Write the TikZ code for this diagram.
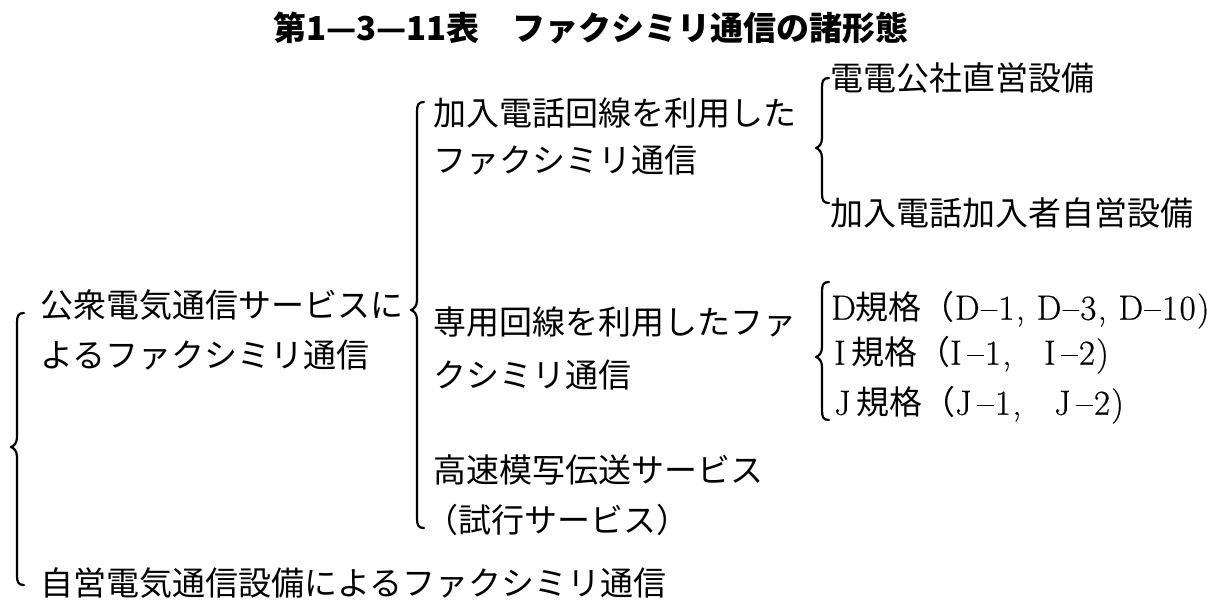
\documentclass[tikz,border=0pt]{standalone}
\usepackage{fontspec}
\newfontfamily\cjk{Noto Sans CJK JP}
\newfontfamily\latn[FakeBold=0.6]{Latin Modern Roman}
\newcommand\lt[1]{{\latn\fontsize{35}{35}\selectfont\addfontfeature{LetterSpace=4}#1}}
\newcommand\mybrace[4]{%
  \draw[bracestyle] (#1+7,#2) .. controls (#1+1,#2) and (#1,#2+3) .. (#1,#2+10)
    -- (#1,#3-10) .. controls (#1,#3-4) and (#1-3,#3-1) .. (#1-6,#3)
    .. controls (#1-3,#3+1) and (#1,#3+4) .. (#1,#3+10)
    -- (#1,#4-10) .. controls (#1,#4-3) and (#1+1,#4) .. (#1+7,#4);}
\begin{document}
\begin{tikzpicture}[x=1pt,y=-1pt,
  jp/.style={anchor=west,inner sep=0pt,font=\cjk\fontsize{33}{33}\selectfont},
  bracestyle/.style={line width=2.2pt,line cap=round,line join=round}]
\useasboundingbox (0,0) rectangle (1231,609);
\fill[white] (0,0) rectangle (1231,609);
\node[inner sep=0pt,font=\cjk\bfseries\fontsize{33}{33}\selectfont] (title) at (591,28) {第1—3—11表　ファクシミリ通信の諸形態};
\node[jp] (a1) at (40,305) {公衆電気通信サービスに};
\node[jp] (a2) at (40,355) {よるファクシミリ通信};
\node[jp] (a3) at (40,583) {自営電気通信設備によるファクシミリ通信};
\node[jp] (b1) at (433,113) {加入電話回線を利用した};
\node[jp] (b2) at (433,160) {ファクシミリ通信};
\node[jp] (b3) at (433,322) {専用回線を利用したファ};
\node[jp] (b4) at (433,375) {クシミリ通信};
\node[jp] (b5) at (433,470) {高速模写伝送サービス};
\node[jp] (b6) at (425,520) {（試行サービス）};
\node[jp] (c1) at (830,78) {電電公社直営設備};
\node[jp] (c2) at (830,213) {加入電話加入者自営設備};
\node[jp] (d1) at (831,310) {\lt{D}規格（\lt{D–1, D–3, D–10)}};
\node[jp] (d2) at (834,355) {\lt{I}\,規格（\lt{I\,–1,}　\lt{I\,–2)}};
\node[jp] (d3) at (834,405) {\lt{J}\,規格（\lt{J\,–1,}　\lt{J\,–2)}};
\mybrace{17}{313}{447}{585}
\mybrace{417}{102}{310}{528}
\mybrace{822}{78}{148}{203}
\mybrace{822}{282}{357}{420}
\end{tikzpicture}
\end{document}
